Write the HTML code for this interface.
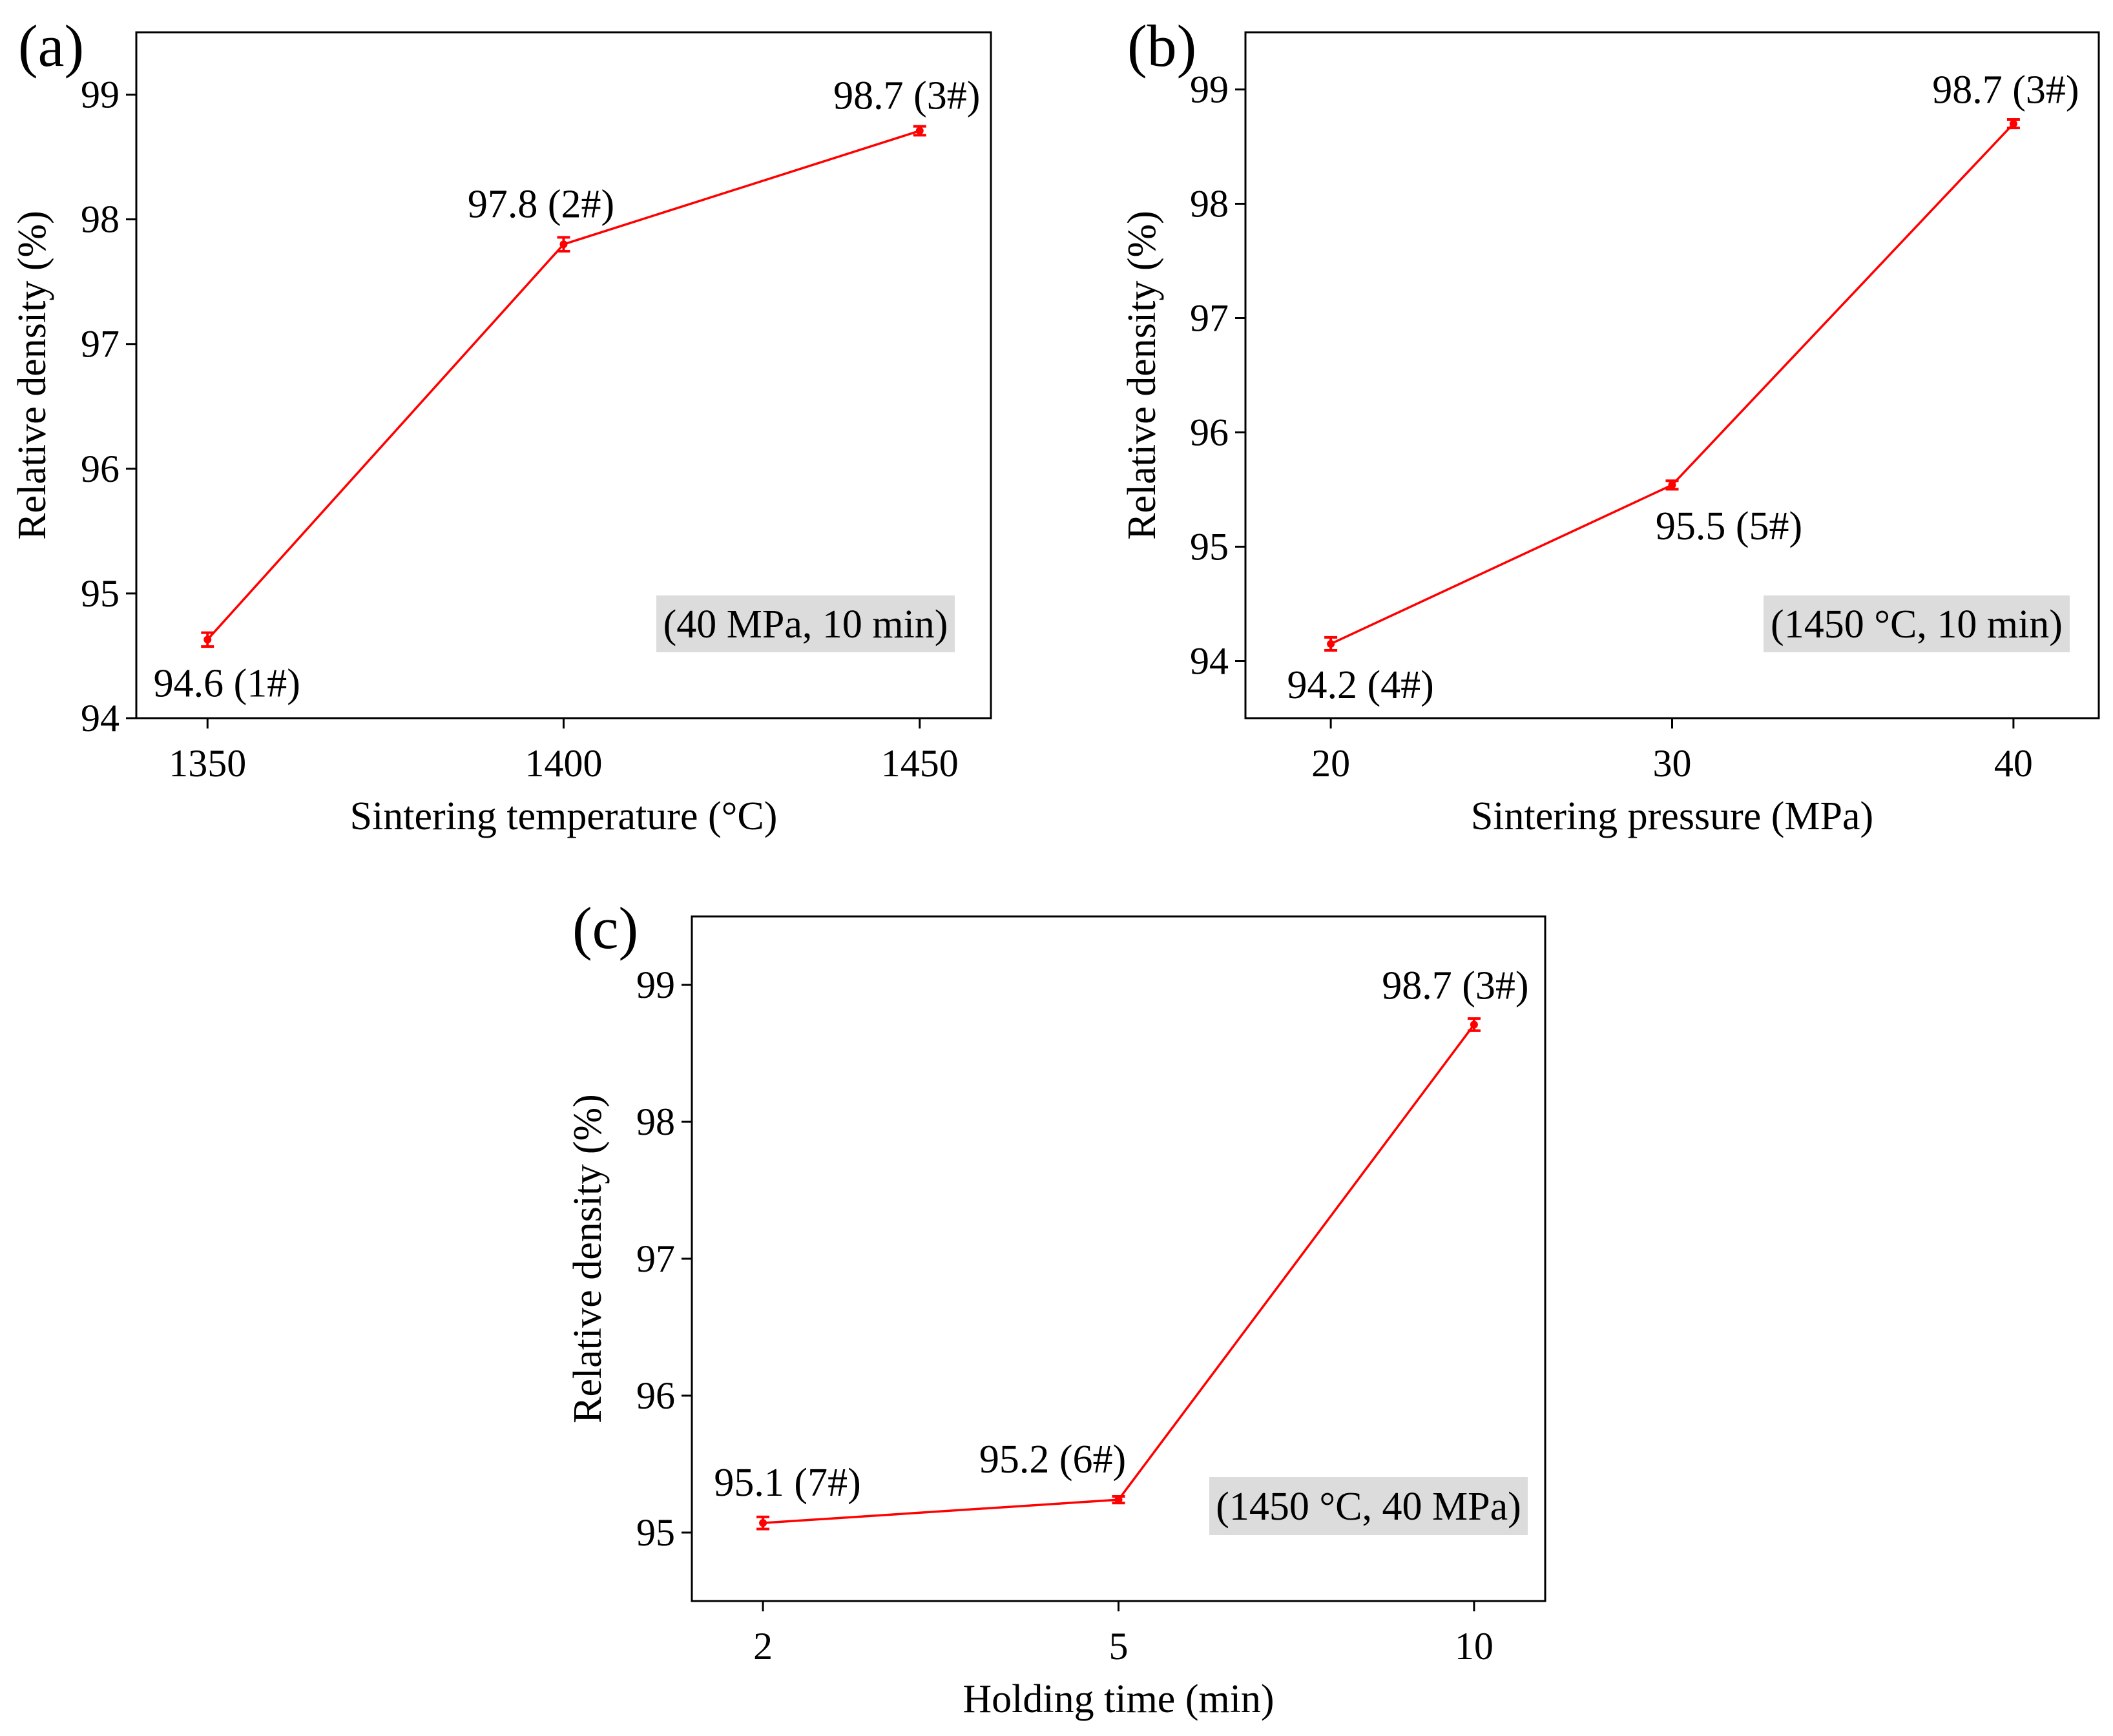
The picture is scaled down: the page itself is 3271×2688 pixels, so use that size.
<!DOCTYPE html>
<html><head><meta charset="utf-8"><style>
html,body{margin:0;padding:0;background:#fff;}
svg{display:block;font-family:"Liberation Serif",serif;}
</style></head><body>
<svg id="fig" width="3271" height="2688" viewBox="0 0 3271 2688" xmlns="http://www.w3.org/2000/svg"></svg>
<script>
// Panel (a)
const catsA = [1350, 1400, 1450];
const valsA = [94.63, 97.80, 98.71];
const errA = [0.04, 0.04, 0.02];
const labelsA = ["94.6 (1#)", "97.8 (2#)", "98.7 (3#)"];
const xTicksA = ["1350", "1400", "1450"];
const yTicksA = [94, 95, 96, 97, 98, 99];
// Panel (b)
const catsB = [20, 30, 40];
const valsB = [94.15, 95.54, 98.70];
const errB = [0.04, 0.02, 0.02];
const labelsB = ["94.2 (4#)", "95.5 (5#)", "98.7 (3#)"];
const xTicksB = ["20", "30", "40"];
const yTicksB = [94, 95, 96, 97, 98, 99];
// Panel (c)
const catsC = [2, 5, 10];
const valsC = [95.07, 95.24, 98.71];
const errC = [0.03, 0.01, 0.03];
const labelsC = ["95.1 (7#)", "95.2 (6#)", "98.7 (3#)"];
const xTicksC = ["2", "5", "10"];
const yTicksC = [95, 96, 97, 98, 99];

const NS = "http://www.w3.org/2000/svg";
const svg = document.getElementById('fig');
function mk(tag, attrs, parent, text) {
  const e = document.createElementNS(NS, tag);
  for (const k in attrs) e.setAttribute(k, attrs[k]);
  if (text !== undefined) e.textContent = text;
  (parent || svg).appendChild(e);
  return e;
}

function panel(cfg) {
  const g = mk('g', {});
  
  
  const {L, R, T, B} = cfg.frame;
  const xs = v => L + (v - cfg.xmin) / (cfg.xmax - cfg.xmin) * (R - L);
  const ys = v => B - (v - cfg.ymin) / (cfg.ymax - cfg.ymin) * (B - T);
  const xPos = i => cfg.categorical ? xs(i) : xs(cfg.cats[i]);

  const bx = mk('rect', {x: cfg.box[0], y: cfg.box[1], width: cfg.box[2], height: cfg.box[3], fill: '#dcdcdc'}, g);
  
  
  const bt = mk('text', {x: cfg.box[0] + cfg.box[2] / 2, y: cfg.box[1] + cfg.box[3] / 2 + 21, 'font-size': 62, 'text-anchor': 'middle', fill: '#000'}, g, cfg.boxText);
  
  

  const fr = mk('rect', {x: L, y: T, width: R - L, height: B - T, fill: 'none', stroke: '#000', 'stroke-width': 3}, g);
  
  

  cfg.yTicks.forEach(v => {
    const y = ys(v);
    const t = mk('line', {x1: L - 16, x2: L, y1: y, y2: y, stroke: '#000', 'stroke-width': 3}, g);
    
    
    const tl = mk('text', {x: L - 26, y: y + 20, 'font-size': 60, 'text-anchor': 'end'}, g, String(v));
    
    
  });
  cfg.xTicks.forEach((lab, i) => {
    const x = xPos(i);
    const t = mk('line', {x1: x, x2: x, y1: B, y2: B + 16, stroke: '#000', 'stroke-width': 3}, g);
    
    
    const tl = mk('text', {x: x, y: B + 90, 'font-size': 60, 'text-anchor': 'middle'}, g, lab);
    
    
  });
  const xt = mk('text', {x: (L + R) / 2, y: B + 172, 'font-size': 62, 'text-anchor': 'middle'}, g, cfg.xTitle);
  
  
  const yx = cfg.yTitleX, yy = (T + B) / 2 + cfg.yTitleDy;
  const yt = mk('text', {x: yx, y: yy, 'font-size': 62, 'text-anchor': 'middle', transform: `rotate(-90 ${yx} ${yy})`}, g, 'Relative density (%)');
  
  
  const pl = mk('text', {x: cfg.letterPos[0], y: cfg.letterPos[1], 'font-size': 92}, g, cfg.letter);
  
  

  const pts = cfg.vals.map((v, i) => `${xPos(i)},${ys(v)}`).join(' ');
  const ln = mk('polyline', {points: pts, fill: 'none', stroke: '#ff0000', 'stroke-width': 3.5}, g);
  
  
  cfg.vals.forEach((v, i) => {
    const x = xPos(i), y = ys(v);
    const e = cfg.err[i];
    const y1 = ys(v + e), y2 = ys(v - e);
    const eb = mk('path', {d: `M${x},${y1 - 3}V${y2 + 3}M${x - 10},${y1 - 3}H${x + 10}M${x - 10},${y2 + 3}H${x + 10}`, stroke: '#ff0000', 'stroke-width': 4, fill: 'none'}, g);
    
    
    const c = mk('circle', {cx: x, cy: y, r: 6, fill: '#ff0000'}, g);
    
    
    const off = cfg.labOff[i];
    const dl = mk('text', {x: x + off[0], y: y + off[1], 'font-size': 62, 'text-anchor': 'middle'}, g, cfg.labels[i]);
    
    
  });
}

panel({name: 'panel-a', frame: {L: 211, R: 1534, T: 50, B: 1112}, xmin: 1340, xmax: 1460, ymin: 94, ymax: 99.5,
  cats: catsA, vals: valsA, err: errA, labels: labelsA, xTicks: xTicksA, yTicks: yTicksA,
  xTitle: 'Sintering temperature (\u00B0C)', yTitleX: 70, yTitleDy: 0, letter: '(a)', letterPos: [28, 102],
  box: [1016, 922, 462, 88], boxText: '(40 MPa, 10 min)',
  labOff: [[30, 88], [-35, -42], [-20, -34]]});

panel({name: 'panel-b', frame: {L: 1928, R: 3249, T: 50, B: 1112}, xmin: 17.5, xmax: 42.5, ymin: 93.5, ymax: 99.5,
  cats: catsB, vals: valsB, err: errB, labels: labelsB, xTicks: xTicksB, yTicks: yTicksB,
  xTitle: 'Sintering pressure (MPa)', yTitleX: 1788, yTitleDy: 0, letter: '(b)', letterPos: [1745, 102],
  box: [2730, 922, 474, 88], boxText: '(1450 \u00B0C, 10 min)',
  labOff: [[46, 84], [88, 84], [-12, -32]]});

panel({name: 'panel-c', categorical: true, frame: {L: 1071, R: 2392, T: 1419, B: 2479}, xmin: -0.2, xmax: 2.2, ymin: 94.5, ymax: 99.5,
  cats: catsC, vals: valsC, err: errC, labels: labelsC, xTicks: xTicksC, yTicks: yTicksC,
  xTitle: 'Holding time (min)', yTitleX: 930, yTitleDy: 0, letter: '(c)', letterPos: [886, 1468],
  box: [1872, 2287, 493, 90], boxText: '(1450 \u00B0C, 40 MPa)',
  labOff: [[38, -42], [-102, -42], [-29, -40]]});
</script>
</body></html>
